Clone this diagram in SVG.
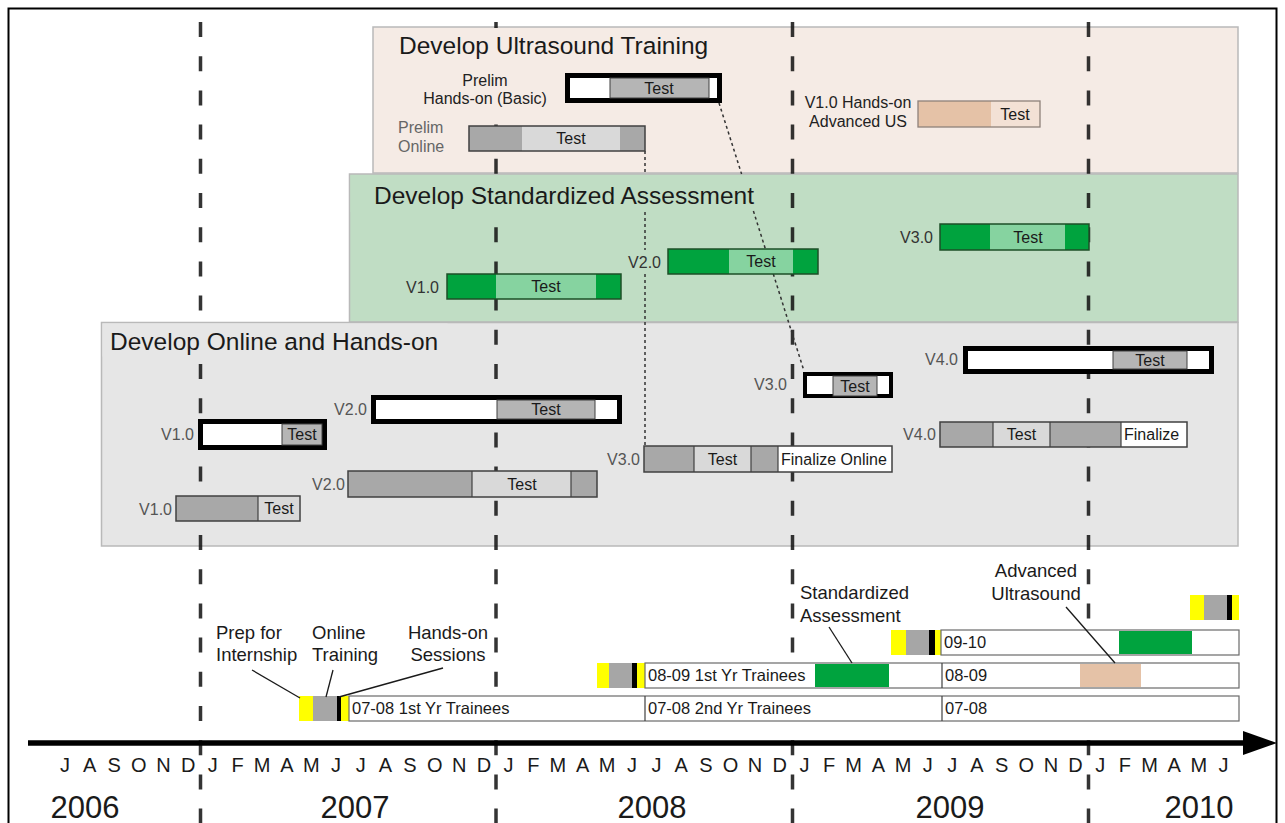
<svg xmlns="http://www.w3.org/2000/svg" width="1285" height="823" viewBox="0 0 1285 823">
<style>
text { font-family: "Liberation Sans", Arial, sans-serif; }
.title { font-size: 24.5px; fill: #1a1a1a; }
.lbl { font-size: 16px; fill: #555; text-anchor: end; }
.lblg { font-size: 16px; fill: #333; text-anchor: end; }
.lbd { font-size: 16px; fill: #222; text-anchor: middle; }
.bt { font-size: 16px; fill: #1a1a1a; text-anchor: middle; }
.bl { font-size: 16px; fill: #1a1a1a; }
.rt { font-size: 16.5px; fill: #1a1a1a; }
.ann { font-size: 18.5px; fill: #1a1a1a; }
.mon { font-size: 20px; fill: #1a1a1a; text-anchor: middle; }
.yr { font-size: 31px; fill: #1a1a1a; text-anchor: middle; }
.yrl { stroke: #111; stroke-opacity: 0.85; stroke-width: 3.5; stroke-dasharray: 15 19.2; fill: none; }
.thick { fill: #fff; stroke: #000; stroke-width: 5; }
.thin3 { fill: #fff; stroke: #000; stroke-width: 4; }
.dk { fill: #a8a8a8; }
.lt { fill: #d9d9d9; }
.tg { fill: #b5b5b5; stroke: #404040; stroke-width: 1; }
.g1 { fill: #00a33e; }
.g2 { fill: #86d3a0; }
.ob { fill: none; stroke: #404040; stroke-width: 1.5; }
.obg { fill: none; stroke: #1d4f27; stroke-width: 1.5; }
.dv { stroke: #404040; stroke-width: 1.2; }
.yel { fill: #ffff00; }
.sg { fill: #a6a6a6; }
.blk { fill: #000; }
.row { fill: #fff; stroke: #6a6a6a; stroke-width: 1.2; }
.conn { stroke: #333; stroke-width: 1.5; stroke-dasharray: 3 3; fill: none; }
.lead { stroke: #1a1a1a; stroke-width: 1.3; fill: none; }
</style>
<rect x="0" y="0" width="1285" height="823" fill="#fff"/>

<g id="panels">
  <rect id="panel-ultrasound" x="373" y="27" width="865" height="146" fill="#f5ebe5" stroke="#b9b9b9" stroke-width="1.5"/>
  <rect id="panel-assessment" x="349.5" y="174" width="888.5" height="148" fill="#c0ddc4" stroke="#b9b9b9" stroke-width="1.5"/>
  <rect id="panel-online" x="101.5" y="322.5" width="1136.5" height="223.5" fill="#e6e6e6" stroke="#b9b9b9" stroke-width="1.5"/>
</g>

<g id="year-lines">
  <line class="yrl" x1="200.5" y1="22" x2="200.5" y2="823"/>
  <line class="yrl" x1="496" y1="22" x2="496" y2="823"/>
  <line class="yrl" x1="792.5" y1="22" x2="792.5" y2="823"/>
  <line class="yrl" x1="1088.5" y1="22" x2="1088.5" y2="823"/>
</g>

<g id="title-backs">
  <rect x="374" y="28" width="346" height="36" fill="#f5ebe5"/>
  <rect x="420" y="64" width="132" height="48" fill="#f5ebe5"/>
  <rect x="350.5" y="175" width="425" height="37" fill="#c0ddc4"/>
  <rect x="626" y="250" width="38" height="24" fill="#c0ddc4"/>
  <rect x="102.5" y="323.5" width="345" height="33" fill="#e6e6e6"/>
</g>

<g id="titles">
  <text class="title" x="399" y="54">Develop Ultrasound Training</text>
  <text class="title" x="374" y="204">Develop Standardized Assessment</text>
  <text class="title" x="110" y="350">Develop Online and Hands-on</text>
</g>

<g id="connectors">
  <path class="conn" d="M645,151 V175 M645,212 V250 M645,274 V446"/>
  <path class="conn" d="M719,103 L741.6,174 M753.4,211 L804,371"/>
</g>

<g id="us-prelim-handson">
  <rect class="thick" x="567.5" y="75.5" width="152" height="25"/>
  <rect class="tg" x="610" y="78" width="99" height="20"/>
  <text class="bt" x="659" y="94">Test</text>
  <text class="lbd" x="485" y="86">Prelim</text>
  <text class="lbd" x="485" y="104">Hands-on (Basic)</text>
</g>
<g id="us-prelim-online">
  <rect class="dk" x="469" y="126" width="53" height="25"/>
  <rect class="lt" x="522" y="126" width="98" height="25"/>
  <rect class="dk" x="620" y="126" width="25" height="25"/>
  <rect class="ob" x="469" y="126" width="176" height="25"/>
  <text class="bt" x="571" y="144">Test</text>
  <text x="398" y="133" style="font-size:16px;fill:#666">Prelim</text>
  <text x="398" y="152" style="font-size:16px;fill:#666">Online</text>
</g>
<g id="us-v1-advanced">
  <rect x="918" y="101" width="73" height="26" fill="#e5c2a7"/>
  <rect x="991" y="101" width="49" height="26" fill="#f3e1d5"/>
  <rect x="918" y="101" width="122" height="26" fill="none" stroke="#8e817a" stroke-width="1.3"/>
  <text class="bt" x="1015" y="120">Test</text>
  <text class="lbd" x="858" y="108">V1.0 Hands-on</text>
  <text class="lbd" x="858" y="127">Advanced US</text>
</g>

<g id="sa-v1">
  <rect class="g1" x="447" y="274" width="49" height="25"/>
  <rect class="g2" x="496" y="274" width="100" height="25"/>
  <rect class="g1" x="596" y="274" width="25" height="25"/>
  <rect class="obg" x="447" y="274" width="174" height="25"/>
  <text class="bt" x="546" y="292">Test</text>
  <text class="lblg" x="439" y="293">V1.0</text>
</g>
<g id="sa-v2">
  <rect class="g1" x="668" y="249" width="61" height="25"/>
  <rect class="g2" x="729" y="249" width="64" height="25"/>
  <rect class="g1" x="793" y="249" width="25" height="25"/>
  <rect class="obg" x="668" y="249" width="150" height="25"/>
  <text class="bt" x="761" y="267">Test</text>
  <text class="lblg" x="661" y="268">V2.0</text>
</g>
<g id="sa-v3">
  <rect class="g1" x="940" y="224" width="50" height="26"/>
  <rect class="g2" x="990" y="224" width="75" height="26"/>
  <rect class="g1" x="1065" y="224" width="24" height="26"/>
  <rect class="obg" x="940" y="224" width="149" height="26"/>
  <text class="bt" x="1028" y="243">Test</text>
  <text class="lblg" x="933" y="243">V3.0</text>
</g>

<g id="oh-v1-handson">
  <rect class="thick" x="200.5" y="421.5" width="124" height="26"/>
  <rect class="tg" x="282" y="424" width="40" height="21"/>
  <text class="bt" x="302" y="440">Test</text>
  <text class="lbl" x="194" y="440">V1.0</text>
</g>
<g id="oh-v2-handson">
  <rect class="thick" x="373.5" y="397.5" width="246" height="24"/>
  <rect class="tg" x="497" y="400" width="98" height="19"/>
  <text class="bt" x="546" y="415">Test</text>
  <text class="lbl" x="367" y="415">V2.0</text>
</g>
<g id="oh-v3-handson">
  <rect class="thin3" x="805" y="374" width="86" height="22"/>
  <rect class="tg" x="833" y="376" width="44" height="20"/>
  <text class="bt" x="855" y="392">Test</text>
  <text class="lbl" x="787" y="390">V3.0</text>
</g>
<g id="oh-v4-handson">
  <rect class="thick" x="965.5" y="348.5" width="246" height="23"/>
  <rect class="tg" x="1113" y="351" width="74" height="18"/>
  <text class="bt" x="1150" y="366">Test</text>
  <text class="lbl" x="958" y="365">V4.0</text>
</g>
<g id="oh-v1-online">
  <rect class="dk" x="176" y="496" width="82" height="25"/>
  <rect class="lt" x="258" y="496" width="42" height="25"/>
  <rect class="ob" x="176" y="496" width="124" height="25"/>
  <line class="dv" x1="258" y1="496" x2="258" y2="521"/>
  <text class="bt" x="279" y="514">Test</text>
  <text class="lbl" x="172" y="515">V1.0</text>
</g>
<g id="oh-v2-online">
  <rect class="dk" x="348" y="471" width="124" height="26"/>
  <rect class="lt" x="472" y="471" width="99" height="26"/>
  <rect class="dk" x="571" y="471" width="26" height="26"/>
  <rect class="ob" x="348" y="471" width="249" height="26"/>
  <line class="dv" x1="472" y1="471" x2="472" y2="497"/>
  <line class="dv" x1="571" y1="471" x2="571" y2="497"/>
  <text class="bt" x="522" y="490">Test</text>
  <text class="lbl" x="345" y="490">V2.0</text>
</g>
<g id="oh-v3-online">
  <rect class="dk" x="644" y="446" width="50" height="26"/>
  <rect class="lt" x="694" y="446" width="57" height="26"/>
  <rect class="dk" x="751" y="446" width="27" height="26"/>
  <rect x="778" y="446" width="114" height="26" fill="#fff"/>
  <rect class="ob" x="644" y="446" width="248" height="26"/>
  <line class="dv" x1="694" y1="446" x2="694" y2="472"/>
  <line class="dv" x1="751" y1="446" x2="751" y2="472"/>
  <line class="dv" x1="778" y1="446" x2="778" y2="472"/>
  <text class="bt" x="722.5" y="465">Test</text>
  <text class="bl" x="781" y="465">Finalize Online</text>
  <text class="lbl" x="640" y="465">V3.0</text>
</g>
<g id="oh-v4-online">
  <rect class="dk" x="940" y="422" width="53" height="25"/>
  <rect class="lt" x="993" y="422" width="57" height="25"/>
  <rect class="dk" x="1050" y="422" width="71" height="25"/>
  <rect x="1121" y="422" width="66" height="25" fill="#fff"/>
  <rect class="ob" x="940" y="422" width="247" height="25"/>
  <line class="dv" x1="993" y1="422" x2="993" y2="447"/>
  <line class="dv" x1="1050" y1="422" x2="1050" y2="447"/>
  <line class="dv" x1="1121" y1="422" x2="1121" y2="447"/>
  <text class="bt" x="1021.5" y="440">Test</text>
  <text class="bl" x="1124" y="440">Finalize</text>
  <text class="lbl" x="936" y="440">V4.0</text>
</g>

<g id="row-0708">
  <rect class="yel" x="299" y="696" width="14" height="25"/>
  <rect class="sg" x="313" y="696" width="24" height="25"/>
  <rect class="blk" x="337" y="696" width="4" height="25"/>
  <rect class="yel" x="341" y="696" width="8" height="25"/>
  <rect class="row" x="349" y="696" width="890" height="25"/>
  <line class="dv" x1="645" y1="696" x2="645" y2="721"/>
  <line class="dv" x1="942" y1="696" x2="942" y2="721"/>
  <text class="rt" x="352" y="714">07-08 1st Yr Trainees</text>
  <text class="rt" x="648" y="714">07-08 2nd Yr Trainees</text>
  <text class="rt" x="945" y="714">07-08</text>
</g>
<g id="row-0809">
  <rect class="yel" x="597" y="663" width="12" height="25"/>
  <rect class="sg" x="609" y="663" width="23" height="25"/>
  <rect class="blk" x="632" y="663" width="5" height="25"/>
  <rect class="yel" x="637" y="663" width="8" height="25"/>
  <rect class="row" x="645" y="663" width="594" height="25"/>
  <rect class="g1" x="815" y="664" width="74" height="23"/>
  <rect x="1080" y="664" width="61" height="23" fill="#e5c2a7"/>
  <line class="dv" x1="942" y1="663" x2="942" y2="688"/>
  <text class="rt" x="648" y="681">08-09 1st Yr Trainees</text>
  <text class="rt" x="945" y="681">08-09</text>
</g>
<g id="row-0910">
  <rect class="yel" x="891" y="630" width="15" height="25"/>
  <rect class="sg" x="906" y="630" width="23" height="25"/>
  <rect class="blk" x="929" y="630" width="6" height="25"/>
  <rect class="yel" x="935" y="630" width="6" height="25"/>
  <rect class="row" x="941" y="630" width="298" height="25"/>
  <rect class="g1" x="1119" y="631" width="73" height="23"/>
  <text class="rt" x="944" y="648">09-10</text>
</g>
<g id="row-1011">
  <rect class="yel" x="1190" y="595" width="14" height="25"/>
  <rect class="sg" x="1204" y="595" width="23" height="25"/>
  <rect class="blk" x="1227" y="595" width="5" height="25"/>
  <rect class="yel" x="1232" y="595" width="7" height="25"/>
</g>

<g id="leaders">
  <path class="lead" d="M252,670 L300,698"/>
  <path class="lead" d="M333,670 L326,697"/>
  <path class="lead" d="M443,668 L339,697"/>
  <path class="lead" d="M829,627 L852,663"/>
  <path class="lead" d="M1066,607 L1115,663"/>
</g>

<g id="annotations">
  <text class="ann" x="216" y="639">Prep for</text>
  <text class="ann" x="216" y="661">Internship</text>
  <text class="ann" x="312" y="639">Online</text>
  <text class="ann" x="312" y="661">Training</text>
  <text class="ann" x="448" y="639" text-anchor="middle">Hands-on</text>
  <text class="ann" x="448" y="661" text-anchor="middle">Sessions</text>
  <text class="ann" x="800" y="599">Standardized</text>
  <text class="ann" x="800" y="622">Assessment</text>
  <text class="ann" x="1036" y="577" text-anchor="middle">Advanced</text>
  <text class="ann" x="1036" y="600" text-anchor="middle">Ultrasound</text>
</g>

<g id="axis">
  <line x1="28" y1="743" x2="1248" y2="743" stroke="#000" stroke-width="5.5"/>
  <polygon points="1243,731 1277,743 1243,755" fill="#000"/>
  <text class="mon" x="64.9" y="772">J</text>
  <text class="mon" x="89.6" y="772">A</text>
  <text class="mon" x="114.2" y="772">S</text>
  <text class="mon" x="138.9" y="772">O</text>
  <text class="mon" x="163.5" y="772">N</text>
  <text class="mon" x="188.2" y="772">D</text>
  <text class="mon" x="212.8" y="772">J</text>
  <text class="mon" x="237.5" y="772">F</text>
  <text class="mon" x="262.1" y="772">M</text>
  <text class="mon" x="286.8" y="772">A</text>
  <text class="mon" x="311.4" y="772">M</text>
  <text class="mon" x="336.1" y="772">J</text>
  <text class="mon" x="360.7" y="772">J</text>
  <text class="mon" x="385.4" y="772">A</text>
  <text class="mon" x="410" y="772">S</text>
  <text class="mon" x="434.7" y="772">O</text>
  <text class="mon" x="459.3" y="772">N</text>
  <text class="mon" x="484" y="772">D</text>
  <text class="mon" x="508.6" y="772">J</text>
  <text class="mon" x="533.3" y="772">F</text>
  <text class="mon" x="557.9" y="772">M</text>
  <text class="mon" x="582.6" y="772">A</text>
  <text class="mon" x="607.2" y="772">M</text>
  <text class="mon" x="631.9" y="772">J</text>
  <text class="mon" x="656.5" y="772">J</text>
  <text class="mon" x="681.2" y="772">A</text>
  <text class="mon" x="705.8" y="772">S</text>
  <text class="mon" x="730.5" y="772">O</text>
  <text class="mon" x="755.1" y="772">N</text>
  <text class="mon" x="779.8" y="772">D</text>
  <text class="mon" x="804.4" y="772">J</text>
  <text class="mon" x="829.1" y="772">F</text>
  <text class="mon" x="853.7" y="772">M</text>
  <text class="mon" x="878.4" y="772">A</text>
  <text class="mon" x="903" y="772">M</text>
  <text class="mon" x="927.7" y="772">J</text>
  <text class="mon" x="952.3" y="772">J</text>
  <text class="mon" x="977" y="772">A</text>
  <text class="mon" x="1001.6" y="772">S</text>
  <text class="mon" x="1026.3" y="772">O</text>
  <text class="mon" x="1050.9" y="772">N</text>
  <text class="mon" x="1075.6" y="772">D</text>
  <text class="mon" x="1100.2" y="772">J</text>
  <text class="mon" x="1124.9" y="772">F</text>
  <text class="mon" x="1149.5" y="772">M</text>
  <text class="mon" x="1174.2" y="772">A</text>
  <text class="mon" x="1198.8" y="772">M</text>
  <text class="mon" x="1223.5" y="772">J</text>
  <text class="yr" x="85" y="818">2006</text>
  <text class="yr" x="355" y="818">2007</text>
  <text class="yr" x="652" y="818">2008</text>
  <text class="yr" x="950" y="818">2009</text>
  <text class="yr" x="1199" y="818">2010</text>
</g>

<rect x="8.5" y="8.5" width="1268" height="830" fill="none" stroke="#000" stroke-width="2"/>
</svg>
